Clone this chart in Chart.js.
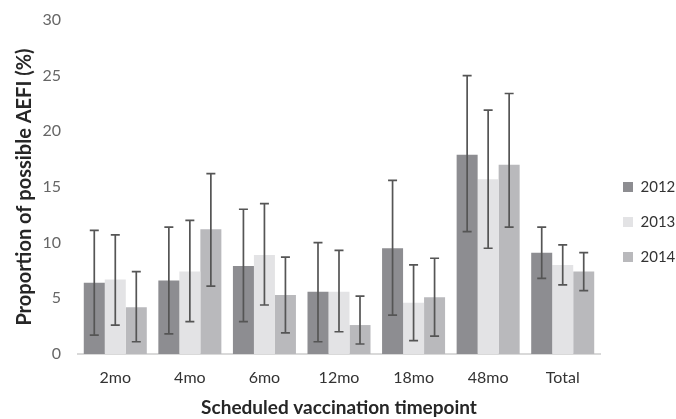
<!DOCTYPE html>
<html>
<head>
<meta charset="utf-8">
<script src="https://cdn.jsdelivr.net/npm/chart.js@4"></script>
<style>
    html, body { margin: 0; padding: 0; background: #fff; }
    #wrap { width: 676px; height: 419px; }
</style>
</head>
<body>
<div id="wrap"><canvas id="chart" width="676" height="419"></canvas></div>
<script>
// Categories and series
const categories = ['2mo', '4mo', '6mo', '12mo', '18mo', '48mo', 'Total'];
const years = ['2012', '2013', '2014'];

// Proportions (%) per year
const values2012 = [6.4, 6.6, 7.9, 5.6, 9.5, 17.9, 9.1];
const values2013 = [6.7, 7.4, 8.9, 5.6, 4.6, 15.7, 8.0];
const values2014 = [4.2, 11.2, 5.3, 2.6, 5.1, 17.0, 7.4];

// 95% CI lower / upper bounds
const low2012 = [1.7, 1.8, 2.9, 1.1, 3.5, 11.0, 6.8];
const high2012 = [11.1, 11.4, 13.0, 10.0, 15.6, 25.0, 11.4];
const low2013 = [2.6, 2.9, 4.4, 2.0, 1.2, 9.5, 6.2];
const high2013 = [10.7, 12.0, 13.5, 9.3, 8.0, 21.9, 9.8];
const low2014 = [1.1, 6.1, 1.9, 0.9, 1.6, 11.4, 5.7];
const high2014 = [7.4, 16.2, 8.7, 5.2, 8.6, 23.4, 9.1];

const yTicks = [0, 5, 10, 15, 20, 25, 30];

// Bar colours
const colors = {
    '2012': '#8d8d91',
    '2013': '#e3e3e5',
    '2014': '#b9b9bc'
};

const FONT = 'Lato, "Open Sans", sans-serif';

// Draws the error bars using the chart's own scales
const errorBars = {
    id: 'errorBars',
    afterDatasetsDraw(chart) {
        const ctx = chart.ctx;
        const yScale = chart.scales.y;
        ctx.save();
        ctx.strokeStyle = '#555555';
        ctx.lineWidth = 1.7;
        chart.data.datasets.forEach((ds, i) => {
            const meta = chart.getDatasetMeta(i);
            meta.data.forEach((bar, j) => {
                const x = bar.x;
                const yLo = yScale.getPixelForValue(ds.low[j]);
                const yHi = yScale.getPixelForValue(ds.high[j]);
                const cap = 4.5;
                ctx.beginPath();
                ctx.moveTo(x, yLo);
                ctx.lineTo(x, yHi);
                ctx.moveTo(x - cap, yHi);
                ctx.lineTo(x + cap, yHi);
                ctx.moveTo(x - cap, yLo);
                ctx.lineTo(x + cap, yLo);
                ctx.stroke();
            });
        });
        ctx.restore();
    }
};

const datasets = [
    { label: years[0], data: values2012, low: low2012, high: high2012, backgroundColor: colors['2012'] },
    { label: years[1], data: values2013, low: low2013, high: high2013, backgroundColor: colors['2013'] },
    { label: years[2], data: values2014, low: low2014, high: high2014, backgroundColor: colors['2014'] }
].map(ds => ({ ...ds, barPercentage: 1.0, categoryPercentage: 0.845, borderWidth: 0 }));

new Chart(document.getElementById('chart'), {
    type: 'bar',
    data: { labels: categories, datasets },
    plugins: [errorBars],
    options: {
        responsive: false,
        animation: false,
        layout: {
            padding: { top: 6, right: 0, left: 14, bottom: 0 }
        },
        plugins: {
            tooltip: { enabled: false },
            legend: {
                position: 'right',
                maxWidth: 73,
                // empty title just pushes the items down a little
                title: {
                    display: true,
                    text: ' ',
                    padding: { top: 3, bottom: 4 },
                    font: { family: FONT, size: 10 }
                },
                labels: {
                    color: '#333333',
                    boxWidth: 10,
                    boxHeight: 10,
                    padding: 20,
                    font: { family: FONT, size: 15 }
                }
            }
        },
        scales: {
            x: {
                grid: { display: false, drawTicks: false },
                border: { color: '#d9d9d9', width: 2 },
                ticks: {
                    color: '#333333',
                    padding: 14,
                    font: { family: FONT, size: 16 }
                },
                title: {
                    display: true,
                    text: 'Scheduled vaccination timepoint',
                    color: '#262626',
                    padding: { top: 0, bottom: 0 },
                    font: { family: FONT, size: 19, weight: 'bold' }
                },
                afterFit(axis) {
                    axis.height = 65;
                }
            },
            y: {
                min: 0,
                max: 30,
                afterBuildTicks(axis) {
                    axis.ticks = yTicks.map(v => ({ value: v }));
                },
                grid: { display: false, drawTicks: false },
                border: { display: false },
                ticks: {
                    color: '#666666',
                    padding: 17,
                    font: { family: FONT, size: 16 }
                },
                title: {
                    display: true,
                    text: 'Proportion of possible AEFI (%)',
                    color: '#262626',
                    padding: { top: 1, bottom: 2 },
                    font: { family: FONT, size: 20, weight: 'bold', lineHeight: 1 }
                },
                afterFit(axis) {
                    axis.width = 64;
                    axis.paddingTop = 20;
                    axis.paddingBottom = 9;
                }
            },
            // blank axis, only keeps a small gap before the legend
            gap: {
                position: 'right',
                display: true,
                grid: { display: false, drawTicks: false },
                border: { display: false },
                ticks: { display: false },
                afterFit(axis) {
                    axis.width = 3;
                }
            }
        }
    }
});
</script>
</body>
</html>
